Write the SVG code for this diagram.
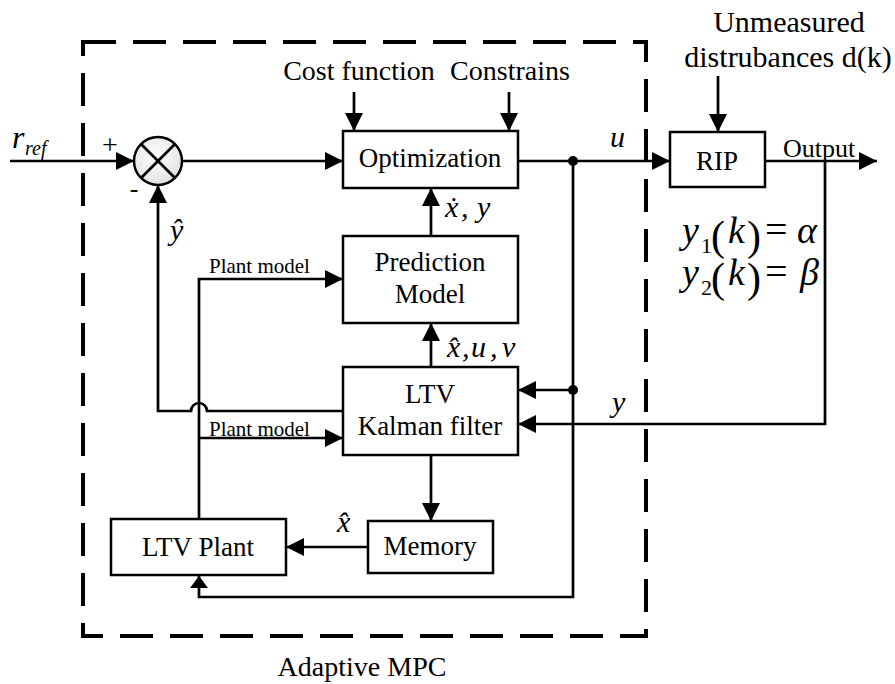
<svg xmlns="http://www.w3.org/2000/svg" width="895" height="684" viewBox="0 0 895 684">
<style>
text{font-family:'Liberation Serif','Times New Roman','DejaVu Serif',serif;fill:#000}
.m{font-size:27px;text-anchor:middle}
.i{font-style:italic}
.box{fill:#fff;stroke:#000;stroke-width:2.5}
.ln{fill:none;stroke:#000;stroke-width:2.7}
</style>
<defs>
<marker id="arr" markerUnits="userSpaceOnUse" markerWidth="18" markerHeight="18" refX="18" refY="9" orient="auto">
<path d="M0,0 L18,9 L0,18 z" fill="#000"/>
</marker>
<marker id="arrS" markerUnits="userSpaceOnUse" markerWidth="12" markerHeight="18" refX="12" refY="9" orient="auto">
<path d="M0,0 L12,9 L0,18 z" fill="#000"/>
</marker>
<radialGradient id="cg" cx="0.45" cy="0.4" r="0.6">
<stop offset="0" stop-color="#ffffff"/>
<stop offset="1" stop-color="#e2e2e2"/>
</radialGradient>
</defs>

<rect x="83" y="42" width="563" height="594" fill="none" stroke="#000" stroke-width="4" stroke-dasharray="33 17"/>
<text class="m" x="362" y="676" style="font-size:28px">Adaptive MPC</text>

<g id="connectors">
<path class="ln" d="M10,161 L134,161" marker-end="url(#arr)"/>
<path class="ln" d="M182,161 L343,161" marker-end="url(#arr)"/>
<path class="ln" d="M518,161 L670,161" marker-end="url(#arr)"/>
<path class="ln" d="M765,161 L877,161" marker-end="url(#arr)"/>
<path class="ln" d="M354,92 L354,131" marker-end="url(#arr)"/>
<path class="ln" d="M509,92 L509,131" marker-end="url(#arr)"/>
<path class="ln" d="M718,76 L718,132" marker-end="url(#arr)"/>
<path class="ln" d="M431,236 L431,188" marker-end="url(#arr)"/>
<path class="ln" d="M431,367 L431,323" marker-end="url(#arr)"/>
<path class="ln" d="M431,455 L431,521" marker-end="url(#arr)"/>
<path class="ln" d="M368,547 L286,547" marker-end="url(#arr)"/>
<path class="ln" d="M199,519 L199,279 L343,279" marker-end="url(#arr)"/>
<path class="ln" d="M199,438 L343,438" marker-end="url(#arr)"/>
<path class="ln" d="M343,411 L207,411 A8,8 0 0 0 191,411 L158,411 L158,185" marker-end="url(#arr)"/>
<path class="ln" d="M573,161 L573,597 L199,597 L199,576" marker-end="url(#arrS)"/>
<path class="ln" d="M573,390 L518,390" marker-end="url(#arr)"/>
<path class="ln" d="M825,161 L825,424 L518,424" marker-end="url(#arr)"/>
<circle cx="573" cy="161" r="5" fill="#000"/>
<circle cx="573" cy="390" r="5" fill="#000"/>
</g>

<g id="sum">
<circle cx="158" cy="161" r="24" fill="url(#cg)" stroke="#000" stroke-width="2.5"/>
<path class="ln" d="M141,144 L175,178 M175,144 L141,178"/>
</g>

<g id="opt">
<rect class="box" x="343" y="131" width="175" height="57"/>
<text class="m" x="430" y="167">Optimization</text>
</g>
<g id="pred">
<rect class="box" x="343" y="236" width="175" height="87"/>
<text class="m" x="430" y="271">Prediction</text>
<text class="m" x="430" y="303">Model</text>
</g>
<g id="kalman">
<rect class="box" x="343" y="367" width="175" height="88"/>
<text class="m" x="430" y="403">LTV</text>
<text class="m" x="430" y="435">Kalman filter</text>
</g>
<g id="memory">
<rect class="box" x="368" y="521" width="125" height="52"/>
<text class="m" x="430" y="555">Memory</text>
</g>
<g id="ltvplant">
<rect class="box" x="111" y="519" width="175" height="56"/>
<text class="m" x="198" y="556">LTV Plant</text>
</g>
<g id="rip">
<rect class="box" x="670" y="132" width="95" height="55"/>
<text class="m" x="717" y="170">RIP</text>
</g>

<g id="labels">
<text class="i" x="12" y="148" style="font-size:32px">r</text>
<text class="i" x="25" y="155" style="font-size:20px">ref</text>
<text class="m" x="110" y="154" style="font-size:28px">+</text>
<text class="m" x="134" y="197" style="font-size:26px">-</text>
<text class="m" x="359" y="80" style="font-size:28px">Cost function</text>
<text class="m" x="510" y="80" style="font-size:28px">Constrains</text>
<text class="m" x="789" y="32" style="font-size:30px">Unmeasured</text>
<text class="m" x="788" y="67" style="font-size:30px">distrubances d(k)</text>
<text x="783" y="157" style="font-size:26px">Output</text>
<text class="i" x="610" y="147" style="font-size:30px">u</text>
<text class="i" x="612" y="412" style="font-size:30px">y</text>
<text class="i" x="170" y="240" style="font-size:30px">ŷ</text>
<text x="209" y="273" style="font-size:21px">Plant model</text>
<text x="209" y="436" style="font-size:21px">Plant model</text>
<text class="i" style="font-size:30px" y="217"><tspan x="445">ẋ</tspan><tspan x="461">,</tspan><tspan x="477">y</tspan></text>
<text class="i" style="font-size:30px" y="357"><tspan x="447">x̂</tspan><tspan x="462">,</tspan><tspan x="471">u</tspan><tspan x="490">,</tspan><tspan x="502">v</tspan></text>
<text class="i" style="font-size:30px" x="337" y="532">x̂</text>
<text y="243" style="font-size:38px"><tspan class="i" x="682">y</tspan><tspan x="701" y="253" style="font-size:22px">1</tspan><tspan x="711" y="250" style="font-size:42px">(</tspan><tspan class="i" x="728" y="243">k</tspan><tspan x="747" y="250" style="font-size:42px">)</tspan><tspan x="765" y="243" style="font-size:40px">=</tspan><tspan class="i" x="797" y="243">α</tspan></text>
<text y="285" style="font-size:38px"><tspan class="i" x="682">y</tspan><tspan x="701" y="295" style="font-size:22px">2</tspan><tspan x="711" y="292" style="font-size:42px">(</tspan><tspan class="i" x="728" y="285">k</tspan><tspan x="747" y="292" style="font-size:42px">)</tspan><tspan x="765" y="285" style="font-size:40px">=</tspan><tspan class="i" x="800" y="285">β</tspan></text>
</g>
</svg>
